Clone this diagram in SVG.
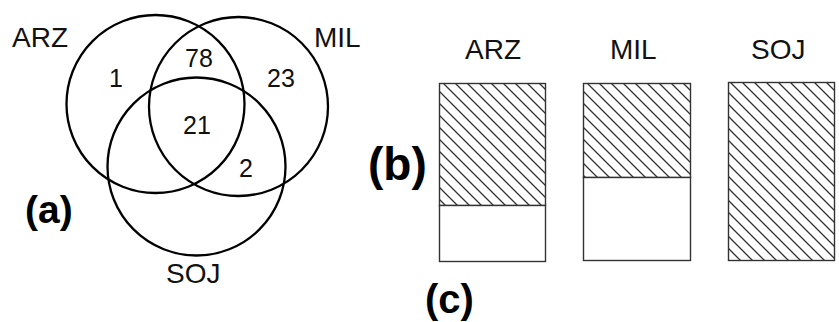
<svg xmlns="http://www.w3.org/2000/svg" width="839" height="322" viewBox="0 0 839 322">
<defs>
<style>
.circ{fill:none;stroke:#000;stroke-width:2.3}
.lbl{font-family:"Liberation Sans",Arial,sans-serif;font-size:28px;fill:#111}
.num{font-family:"Liberation Sans",Arial,sans-serif;font-size:25px;fill:#111;text-anchor:middle}
.tag{font-family:"Liberation Sans",Arial,sans-serif;font-weight:bold;fill:#000}
.bar{stroke:#333;stroke-width:1.4}
.hatch{fill:url(#hatch)}
.plain{fill:#fff}
</style>
<pattern id="hatch" patternUnits="userSpaceOnUse" width="12" height="12">
<rect width="12" height="12" fill="#fff"/>
<path d="M0,0 L12,12 M-2,10 L2,14 M10,-2 L14,2" stroke="#333" stroke-width="1.3"/>
</pattern>
</defs>
<rect width="839" height="322" fill="#fff"/>
<g id="venn">
<g id="circle-arz"><circle class="circ" cx="155.5" cy="104" r="89"/></g>
<g id="circle-mil"><circle class="circ" cx="238.5" cy="106.5" r="89.5"/></g>
<g id="circle-soj"><circle class="circ" cx="196.5" cy="166.5" r="89"/></g>
<text class="lbl" x="12" y="47">ARZ</text>
<text class="lbl" x="314" y="47">MIL</text>
<text class="lbl" x="166" y="283">SOJ</text>
<text class="num" x="116" y="87">1</text>
<text class="num" x="199" y="67">78</text>
<text class="num" x="281" y="87">23</text>
<text class="num" x="197" y="134">21</text>
<text class="num" x="246" y="177">2</text>
<text class="tag" x="25" y="223" font-size="39">(a)</text>
</g>
<g id="bars">
<g id="bar-arz">
<text class="lbl" x="465" y="59" font-size="27">ARZ</text>
<rect class="bar hatch" x="439.5" y="83.5" width="106" height="122"/>
<rect class="bar plain" x="439.5" y="205.5" width="106" height="56"/>
</g>
<g id="bar-mil">
<text class="lbl" x="610" y="59" font-size="27">MIL</text>
<rect class="bar hatch" x="583.5" y="83.5" width="107" height="94"/>
<rect class="bar plain" x="583.5" y="177.5" width="107" height="83"/>
</g>
<g id="bar-soj">
<text class="lbl" x="751" y="59" font-size="27">SOJ</text>
<rect class="bar hatch" x="728.5" y="82.5" width="106" height="178"/>
</g>
<text class="tag" x="368" y="180" font-size="46">(b)</text>
<text class="tag" x="425" y="313" font-size="40">(c)</text>
</g>
</svg>
